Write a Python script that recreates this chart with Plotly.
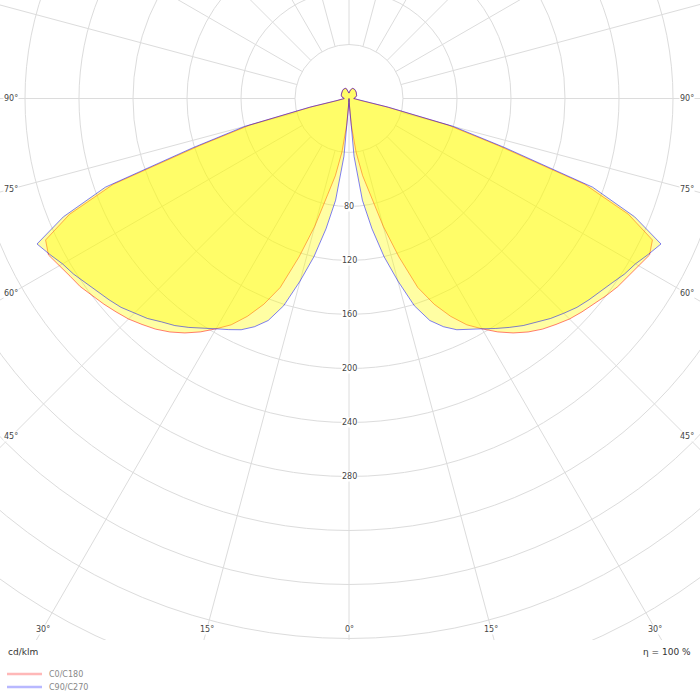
import numpy as np
import plotly.graph_objects as go

# vertical angles gamma (deg, 0 = straight down) and intensities in cd/klm
gamma = [0, 2.5, 5, 7.5, 10, 12.5, 15, 17.5, 20, 22.5, 25, 27.5, 30, 32.5, 35, 37.5,
         40, 42.5, 45, 47.5, 50, 52.5, 55, 57.5, 60, 62.5, 65, 67.5, 70, 72.5, 75, 77.5,
         80, 82.5, 85, 87.5, 90, 95, 100, 105, 110, 120, 130, 140, 150, 160, 165, 170, 175, 180]

c0_c180 = [0, 3, 20, 40, 58, 73, 98, 123, 149, 165, 178, 189, 197, 205, 212, 218,
           223, 227, 231, 234, 237, 240, 243, 245, 248, 251, 248, 224, 186, 116, 76, 28,
           9, 6, 5, 4, 3.5, 4, 5, 5.5, 6, 6.5, 7, 7.5, 8, 8, 7.5, 6.5, 5, 4]

c90_c270 = [0, 3, 43, 76, 98, 120, 140, 161, 175, 183, 189, 193, 197, 202, 207, 212,
            216, 221, 225, 229, 232, 235, 238, 242, 245, 250, 255, 229, 192, 121, 80, 30,
            10, 6, 5, 4, 3.5, 4, 5, 5.5, 6, 6.5, 7, 7.5, 8, 8, 7.5, 6.5, 5, 4]

series = ["C0/C180", "C90/C270"]
rings = list(range(40, 561, 40))
ring_labels = [80, 120, 160, 200, 240, 280]
spoke_angles = list(range(0, 360, 15))
side_angles = [90, 75, 60, 45]
bottom_angles = [30, 15, 0]

PX = 1.35           # pixels per cd/klm
CX, CY = 349, 98.5  # pole position in pixels
BOTTOM = 640        # bottom of the diagram area in pixels

g = np.radians(gamma)


def outline(values):
    r = np.array(values, dtype=float)
    xs = r * np.sin(g)
    ys = -r * np.cos(g)
    # left half (C180 / C270) from 180 deg down to 0, then right half (C0 / C90)
    x = np.concatenate([-xs[::-1], xs[1:]])
    y = np.concatenate([ys[::-1], ys[1:]])
    return x, y


fig = go.Figure()

fill = "rgba(255,252,0,0.36)"
line_cols = ["rgba(255,0,0,0.5)", "rgba(0,0,255,0.5)"]
legend_cols = ["rgba(255,0,0,0.28)", "rgba(0,0,255,0.28)"]
for vals, col, name in zip([c0_c180, c90_c270], line_cols, series):
    x, y = outline(vals)
    fig.add_trace(go.Scatter(x=x, y=y, mode="lines", fill="toself", fillcolor=fill,
                             line=dict(color=col, width=1), name=name,
                             showlegend=False, hoverinfo="skip"))

grid = dict(color="#dcdcdc", width=1)
shapes = []
for r in rings:
    shapes.append(dict(type="circle", xref="x", yref="y", x0=-r, x1=r, y0=-r, y1=r,
                       line=grid, layer="below"))
for a in spoke_angles:
    t = np.radians(a)
    r0 = 0 if a == 0 else 40
    shapes.append(dict(type="line", xref="x", yref="y",
                       x0=r0 * np.sin(t), y0=-r0 * np.cos(t),
                       x1=800 * np.sin(t), y1=-800 * np.cos(t),
                       line=grid, layer="below"))

lab = dict(size=8, color="#444", family="DejaVu Sans")
ann = []
for r in ring_labels:
    ann.append(dict(x=0, y=-r, xref="x", yref="y", text=str(r), showarrow=False,
                    font=lab, bgcolor="white", borderpad=0))

side_x = (CX - 11) / PX
for a in side_angles:
    t = np.radians(a)
    yy = -side_x * np.cos(t) / np.sin(t)
    for s in (-1, 1):
        ann.append(dict(x=s * side_x, y=yy, xref="x", yref="y", text=f"{a}°",
                        showarrow=False, font=lab, bgcolor="white", borderpad=0))

bot_y = -(629 - CY) / PX
for a in bottom_angles:
    t = np.radians(a)
    xx = -bot_y * np.tan(t)
    for s in ((-1, 1) if a else (1,)):
        ann.append(dict(x=s * xx, y=bot_y, xref="x", yref="y", text=f"{a}°",
                        showarrow=False, font=lab, bgcolor="white", borderpad=0))

ann.append(dict(x=6 / 700, y=1 - 652 / 700, xref="paper", yref="paper", text="cd/klm",
                showarrow=False, xanchor="left", yanchor="middle",
                font=dict(size=9, color="#333", family="DejaVu Sans")))
ann.append(dict(x=693 / 700, y=1 - 652 / 700, xref="paper", yref="paper",
                text="η = 100 %", showarrow=False, xanchor="right", yanchor="middle",
                font=dict(size=9, color="#333", family="DejaVu Sans")))

# legend drawn by hand: short thick line + label
for i, (name, col) in enumerate(zip(series, legend_cols)):
    ly = 1 - (674 + 13 * i) / 700
    shapes.append(dict(type="line", xref="paper", yref="paper", x0=7 / 700, x1=42 / 700,
                       y0=ly, y1=ly, line=dict(color=col, width=2.5)))
    ann.append(dict(x=47 / 700, y=ly, xref="paper", yref="paper", text=name,
                    showarrow=False, xanchor="left", yanchor="middle",
                    font=dict(size=8, color="#888", family="DejaVu Sans")))

fig.update_layout(
    width=700, height=700,
    margin=dict(l=0, r=0, t=0, b=0),
    paper_bgcolor="white", plot_bgcolor="white",
    xaxis=dict(range=[-CX / PX, (700 - CX) / PX], domain=[0, 1], visible=False),
    yaxis=dict(range=[-(BOTTOM - CY) / PX, CY / PX], domain=[1 - BOTTOM / 700, 1],
               visible=False),
    shapes=shapes,
    annotations=ann,
    showlegend=False,
    hovermode=False,
)

fig.write_html("out.html", config={"displayModeBar": False},
               post_script="document.body.style.margin='0';")
